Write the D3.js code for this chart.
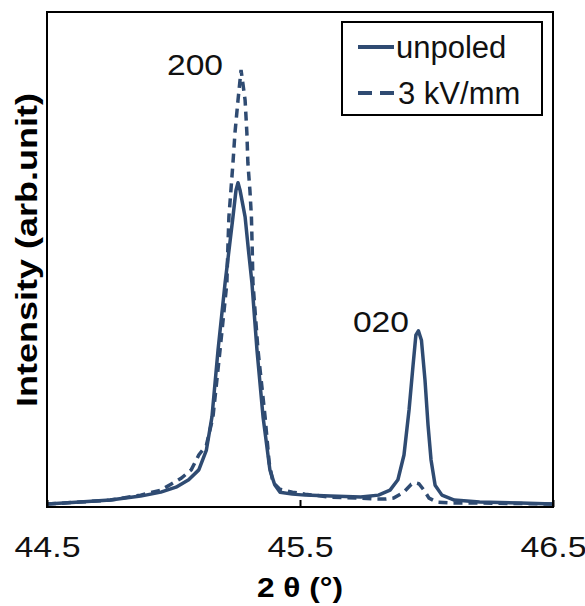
<!DOCTYPE html>
<html>
<head>
<meta charset="utf-8">
<script src="https://cdn.jsdelivr.net/npm/d3@7"></script>
<style>
  body { margin: 0; background: #fff; }
  text { font-family: "Liberation Sans", Arial, sans-serif; }
</style>
</head>
<body>
<svg id="chart"></svg>
<script>
// 2 theta (deg) and intensity (a.u.)
const unpoledTheta = [44.50, 44.63, 44.75, 44.87, 44.95, 45.01, 45.06, 45.10, 45.13, 45.152,
  45.176, 45.204, 45.222, 45.235, 45.247, 45.255, 45.263, 45.283, 45.296, 45.310,
  45.330, 45.354, 45.381, 45.40, 45.421, 45.47, 45.52, 45.62, 45.74, 45.81,
  45.856, 45.887, 45.911, 45.931, 45.947, 45.958, 45.968, 45.980, 45.994, 46.006,
  46.018, 46.034, 46.061, 46.11, 46.21, 46.37, 46.50];
const unpoledI = [0.6, 1.0, 1.4, 2.2, 3.0, 4.0, 5.5, 7.5, 11.5, 18.2,
  31.7, 45.3, 53.0, 58.6, 64.0, 65.5, 64.0, 58.6, 52.0, 45.3,
  31.7, 18.2, 7.5, 4.5, 3.0, 2.6, 2.4, 2.2, 2.0, 2.4,
  3.4, 5.5, 10.5, 19.6, 28.7, 34.7, 35.6, 33.7, 25.7, 16.6,
  9.5, 4.4, 2.4, 1.4, 1.0, 0.8, 0.6];

const poledTheta = [44.50, 44.63, 44.75, 44.87, 44.95, 44.99, 45.03, 45.07, 45.10, 45.13,
  45.156, 45.184, 45.211, 45.215, 45.219, 45.227, 45.235, 45.243, 45.255, 45.267,
  45.283, 45.290, 45.294, 45.302, 45.308, 45.311, 45.314, 45.334, 45.362, 45.378,
  45.393, 45.42, 45.47, 45.52, 45.62, 45.74, 45.80, 45.84, 45.87, 45.91,
  45.94, 45.955, 45.97, 45.99, 46.01, 46.04, 46.10, 46.21, 46.37, 46.50];
const poledI = [0.6, 1.0, 1.4, 2.4, 3.4, 4.6, 5.8, 7.5, 10.5, 12.5,
  18.2, 31.7, 45.3, 52.5, 58.6, 64.0, 69.5, 75.6, 82.2, 88.3,
  82.2, 75.6, 69.5, 64.0, 58.6, 52.5, 45.3, 31.7, 18.2, 9.0,
  5.0, 3.6, 3.0, 2.6, 2.0, 1.8, 1.6, 1.6, 1.8, 3.0,
  4.6, 4.9, 4.7, 3.4, 1.8, 1.0, 0.8, 0.8, 0.7, 0.6];

const xTicks = [44.5, 45.5, 46.5];
const peakLabels = [
  { text: "200", theta: 45.085, value: 87.3 },
  { text: "020", theta: 45.82, value: 35.4 }
];
const seriesNames = ["unpoled", "3 kV/mm"];

const width = 585;
const height = 606;
const margin = { top: 12, right: 32, bottom: 99, left: 47 };
const color = "#2f4b72";

// the source font runs a bit wider than Liberation Sans
function stretch(sel, k) {
  sel.each(function () {
    const w = this.getComputedTextLength();
    d3.select(this)
      .attr("textLength", w * k)
      .attr("lengthAdjust", "spacingAndGlyphs");
  });
}

const svg = d3.select("#chart")
  .attr("width", width)
  .attr("height", height);

const x = d3.scaleLinear()
  .domain([44.5, 46.5])
  .range([margin.left, width - margin.right]);

const y = d3.scaleLinear()
  .domain([0, 100])
  .range([height - margin.bottom, margin.top]);

svg.append("defs").append("clipPath")
  .attr("id", "plot")
  .append("rect")
  .attr("x", margin.left)
  .attr("y", margin.top)
  .attr("width", width - margin.left - margin.right)
  .attr("height", height - margin.top - margin.bottom);

const line = d3.line()
  .x(d => x(d[0]))
  .y(d => y(d[1]));

const unpoled = unpoledTheta.map((t, i) => [t, unpoledI[i]]);
const poled = poledTheta.map((t, i) => [t, poledI[i]]);

const g = svg.append("g").attr("clip-path", "url(#plot)");

g.append("path")
  .datum(poled)
  .attr("fill", "none")
  .attr("stroke", color)
  .attr("stroke-width", 3.5)
  .attr("stroke-dasharray", "9,6")
  .attr("d", line);

g.append("path")
  .datum(unpoled)
  .attr("fill", "none")
  .attr("stroke", color)
  .attr("stroke-width", 3.5)
  .attr("stroke-linejoin", "round")
  .attr("d", line);

// frame
svg.append("rect")
  .attr("x", margin.left)
  .attr("y", margin.top)
  .attr("width", width - margin.left - margin.right)
  .attr("height", height - margin.top - margin.bottom)
  .attr("fill", "none")
  .attr("stroke", "#000")
  .attr("stroke-width", 2);

const xAxis = svg.append("g")
  .attr("transform", `translate(0,${height - margin.bottom})`)
  .call(d3.axisBottom(x)
    .tickValues(xTicks)
    .tickFormat(d3.format(".1f"))
    .tickSizeInner(-7)
    .tickSizeOuter(0)
    .tickPadding(29));
xAxis.select(".domain").remove();
xAxis.selectAll("line").attr("stroke", "#000").attr("stroke-width", 2);
xAxis.selectAll("text")
  .attr("fill", "#111")
  .style("font-family", "'Liberation Sans', Arial, sans-serif")
  .style("font-size", "30px")
  .call(stretch, 1.13);

svg.append("text")
  .attr("x", 300)
  .attr("y", 597)
  .attr("text-anchor", "middle")
  .style("font-size", "28px")
  .style("font-weight", "bold")
  .text("2 θ (°)")
  .call(stretch, 1.13);

svg.append("text")
  .attr("transform", `translate(37,250) rotate(-90)`)
  .attr("text-anchor", "middle")
  .style("font-size", "30px")
  .style("font-weight", "bold")
  .text("Intensity (arb.unit)")
  .call(stretch, 1.2);

svg.selectAll(".peak")
  .data(peakLabels)
  .enter()
  .append("text")
  .attr("class", "peak")
  .attr("x", d => x(d.theta))
  .attr("y", d => y(d.value))
  .attr("text-anchor", "middle")
  .style("font-size", "30px")
  .attr("fill", "#111")
  .text(d => d.text)
  .call(stretch, 1.12);

// legend
const legend = svg.append("g");
legend.append("rect")
  .attr("x", 342)
  .attr("y", 22)
  .attr("width", 200)
  .attr("height", 93)
  .attr("fill", "#fff")
  .attr("stroke", "#000")
  .attr("stroke-width", 2);

seriesNames.forEach((name, i) => {
  const ly = 47 + i * 46;
  legend.append("line")
    .attr("x1", 358)
    .attr("x2", 394)
    .attr("y1", ly)
    .attr("y2", ly)
    .attr("stroke", color)
    .attr("stroke-width", 4)
    .attr("stroke-dasharray", i === 0 ? null : "14,8");
  legend.append("text")
    .attr("x", i === 0 ? 396 : 398)
    .attr("y", ly + 11)
    .style("font-size", "31px")
    .attr("fill", "#111")
    .text(name);
});
</script>
</body>
</html>
